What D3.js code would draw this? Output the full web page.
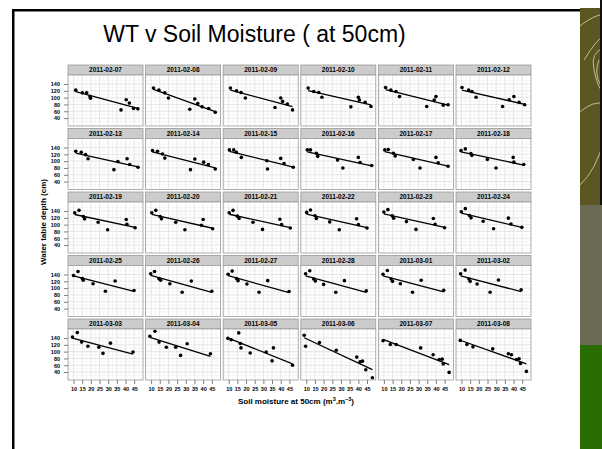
<!DOCTYPE html>
<html><head><meta charset="utf-8">
<script src="https://cdn.jsdelivr.net/npm/d3@7"></script>
<style>body{margin:0;background:#fff}svg{display:block}</style>
</head><body>
<script>
const dates = ["2011-02-07","2011-02-08","2011-02-09","2011-02-10","2011-02-11","2011-02-12",
  "2011-02-13","2011-02-14","2011-02-15","2011-02-16","2011-02-17","2011-02-18",
  "2011-02-19","2011-02-20","2011-02-21","2011-02-22","2011-02-23","2011-02-24",
  "2011-02-25","2011-02-26","2011-02-27","2011-02-28","2011-03-01","2011-03-02",
  "2011-03-03","2011-03-04","2011-03-05","2011-03-06","2011-03-07","2011-03-08"];
const soilMoisture = [
  [11.3,15.1,17.6,19.5,19.8,37.4,40.4,42.2,44.6,47.1],
  [11.4,14.5,17.9,20,32.3,35.2,36.9,39.4,43.2,47],
  [11,14.5,17.1,19.6,36.7,40,41.1,43.8,46.8],
  [11.1,14.3,17.2,19,35.7,40,40.6,43.9,47.3],
  [11,14,17,19,34.7,39,40,44.2,47],
  [10.3,14.1,16,18.4,33.7,37.5,40.2,43.2,46.4],
  [11.3,14.5,17,18.4,33.3,35.6,40.9,42.4,47.2],
  [10.8,13.7,16.6,17.9,32.7,35.2,40.3,43,47],
  [10.4,12.9,14.4,17.3,32,32.4,40,41.9,47.2],
  [10.6,12.4,15.8,16.6,28,31.1,40,41,47.7],
  [10.5,12.5,15.5,16.5,27,30.8,40,41.3,47],
  [9.7,12.2,15.4,16,24.9,29.9,39.8,40.2,45.9],
  [10.7,13.2,15.7,16.4,24.2,29.7,40.4,40.8,45.5],
  [10.4,12.7,15.2,16,24.2,29.5,40,39,45.5],
  [10.3,12.5,15,16,24,29.5,39.5,40.5,45.5],
  [10.2,12.4,15,15.8,23.5,29,39,40,45],
  [10,12.3,14.8,15.6,23,28.5,38.5,39.5,45],
  [9.9,12.2,14.6,15.5,22.5,28.5,37,38.5,44.8],
  [10,12.6,15.1,15.6,21.3,28.4,34,44.9],
  [9.8,12,14.5,15.5,20.8,27.9,33.2,45],
  [9.7,12,14.5,15.4,20.5,27.5,32.5,44.8],
  [9.6,12,14.3,15.2,20,27,32,44.6],
  [9.5,12,14.2,15,19.5,26.5,31.5,44.5],
  [9.5,12.1,14.3,15,19,26.5,31.3,44.4],
  [9.4,12.2,14.7,18.3,24.6,27,31.3,44.3],
  [9.3,12.2,14.6,18.8,24.2,27,30.8,44.2],
  [9.5,11.4,15.8,16.7,17.1,22.4,31.6,35,35.8,46.8],
  [8.8,9.6,17.6,27.3,39.1,41,42.4,44.3,48.1],
  [9.5,13.7,17.1,31.2,38.4,41.9,43.6,44.2,47.6],
  [9.3,13.1,16.6,28,37,38.8,41.7,43.2,44,47.4]
];
const waterTable = [
  [122,114,114,103,98,64,94,84,68,67],
  [128,122,114,99,66,96,83,73,68,57],
  [128,120,115,99,71,99,89,81,64],
  [128,118,115,101,73,101,93,86,74],
  [130,122,118,103,74,93,103,78,79],
  [130,122,118,101,74,94,103,86,79],
  [129,126,119,107,75,99,107,90,82],
  [131,129,121,109,75,106,97,90,77],
  [133,133,126,111,101,77,108,93,82],
  [133,133,123,114,103,80,111,96,87],
  [133,134,123,115,105,80,111,95,85],
  [131,136,122,117,105,80,111,97,90],
  [135,142,124,117,107,85,115,101,91],
  [135,142,124,117,107,85,115,98,88],
  [135,142,125,118,107,86,116,100,90],
  [136,143,126,118,108,85,117,100,90],
  [137,144,126,119,109,86,118,101,91],
  [138,147,127,120,110,88,119,102,92],
  [137,149,128,123,113,91,121,93],
  [142,149,128,123,113,88,121,91],
  [141,150,128,122,112,88,122,90],
  [142,151,127,121,111,88,122,92],
  [141,152,127,120,113,88,123,94],
  [142,153,127,120,112,88,124,95],
  [143,156,128,116,113,95,125,99],
  [145,159.7,128,113,113,89,123,94],
  [139,135,155,124,111,96,99,73,111,60],
  [148,116,127,104,84,70,72,47,23.5],
  [132,121,121,111,91,77,78,64,39],
  [133,121,114,108,94,91,77,79,65,42]
];
const xTicks = [10,15,20,25,30,35,40,45];
const yTicks = [40,60,80,100,120,140];
const xMinor = [7.5,12.5,17.5,22.5,27.5,32.5,37.5,42.5,47.5];
const yMinor = [30,50,70,90,110,130,150];

const W = 602, H = 449;
const svg = d3.select("body").append("svg").attr("width", W).attr("height", H);
const FONT = "'Liberation Sans', Arial, Helvetica, sans-serif";

// slide frame
svg.append("rect").attr("x",0).attr("y",0).attr("width",W).attr("height",H).attr("fill","#fff");
svg.append("rect").attr("x",12).attr("y",9).attr("width",569).attr("height",2.5).attr("fill","#000");
svg.append("rect").attr("x",12).attr("y",9).attr("width",2.5).attr("height",H-9).attr("fill","#000");
// right decorative strip
svg.append("rect").attr("x",580).attr("y",8).attr("width",22).attr("height",197).attr("fill","#5b5622");
svg.append("rect").attr("x",580).attr("y",205).attr("width",22).attr("height",140).attr("fill","#6a6a55");
svg.append("rect").attr("x",580).attr("y",345).attr("width",22).attr("height",H-345).attr("fill","#2a6d02");
const deco = svg.append("g").attr("fill","none").attr("stroke","#d4cf9c").attr("stroke-width",1).attr("opacity",0.85);
svg.append("clipPath").attr("id","dc").append("rect").attr("x",580).attr("y",8).attr("width",22).attr("height",197);
deco.attr("clip-path","url(#dc)");
deco.append("path").attr("d","M580,26 Q592,16 604,14");
deco.append("path").attr("d","M604,48 Q590,52 594,70 Q598,90 606,96");
deco.append("path").attr("d","M599,60 Q594,72 600,84");
deco.append("path").attr("d","M580,112 Q594,100 604,104");
deco.append("path").attr("d","M580,185 Q596,170 604,140");
deco.append("path").attr("d","M584,60 Q596,40 604,36");
svg.append("rect").attr("x",600).attr("y",0).attr("width",2).attr("height",205).attr("fill","#111");

// title
svg.append("text").attr("x",254.5).attr("y",42).attr("text-anchor","middle")
  .attr("font-family",FONT).attr("font-size",23).attr("fill","#000")
  .text("WT v Soil Moisture ( at 50cm)");

// facet geometry
const left0 = 68, panelW = 75, colPitch = 77.6;
const top0 = 65, stripH = 10, panelH = 51, rowPitch = 63.5;
const nCol = 6;

const allX = soilMoisture.flat(), allY = waterTable.flat();
function expand(ext){ const r = ext[1]-ext[0]; return [ext[0]-0.05*r, ext[1]+0.05*r]; }
const x = d3.scaleLinear().domain(expand(d3.extent(allX))).range([0, panelW]);
const y = d3.scaleLinear().domain(expand(d3.extent(allY))).range([panelH, 0]);
const xd = x.domain(), yd = y.domain();
const xm = xMinor.filter(v => v>=xd[0] && v<=xd[1]);
const ym = yMinor.filter(v => v>=yd[0] && v<=yd[1]);

const lineGen = d3.line().x(d=>x(d[0])).y(d=>y(d[1]));

dates.forEach((dt, i) => {
  const c = i % nCol, r = Math.floor(i / nCol);
  const px = left0 + c*colPitch, sy = top0 + r*rowPitch, py = sy + stripH;
  // strip
  svg.append("rect").attr("x",px).attr("y",sy).attr("width",panelW).attr("height",stripH)
    .attr("fill","#cccccc").attr("stroke","#999").attr("stroke-width",0.8);
  svg.append("text").attr("x",px+panelW/2).attr("y",sy+stripH/2).attr("dy","0.35em")
    .attr("text-anchor","middle").attr("font-family",FONT).attr("font-weight","bold")
    .attr("font-size",6.5).attr("fill","#000").text(dt);
  const g = svg.append("g").attr("transform",`translate(${px},${py})`);
  g.append("rect").attr("width",panelW).attr("height",panelH).attr("fill","#fff");
  // minor grid
  g.selectAll(".xm").data(xm).join("line").attr("x1",d=>x(d)).attr("x2",d=>x(d))
    .attr("y1",0).attr("y2",panelH).attr("stroke","#f0f0f0").attr("stroke-width",0.6);
  g.selectAll(".ym").data(ym).join("line").attr("y1",d=>y(d)).attr("y2",d=>y(d))
    .attr("x1",0).attr("x2",panelW).attr("stroke","#f0f0f0").attr("stroke-width",0.6);
  // major grid
  g.selectAll(".xM").data(xTicks).join("line").attr("x1",d=>x(d)).attr("x2",d=>x(d))
    .attr("y1",0).attr("y2",panelH).attr("stroke","#e0e0e0").attr("stroke-width",0.8);
  g.selectAll(".yM").data(yTicks).join("line").attr("y1",d=>y(d)).attr("y2",d=>y(d))
    .attr("x1",0).attr("x2",panelW).attr("stroke","#e0e0e0").attr("stroke-width",0.8);
  // regression (lm)
  const xs = soilMoisture[i], ys = waterTable[i];
  const mx = d3.mean(xs), my = d3.mean(ys);
  let sxy = 0, sxx = 0;
  xs.forEach((v,k)=>{ sxy += (v-mx)*(ys[k]-my); sxx += (v-mx)*(v-mx); });
  const b = sxy/sxx, a = my - b*mx;
  const [x0, x1] = d3.extent(xs);
  g.append("path").attr("d", lineGen([[x0, a+b*x0],[x1, a+b*x1]]))
    .attr("stroke","#000").attr("stroke-width",1.3).attr("fill","none");
  // points
  g.selectAll("circle").data(xs.map((v,k)=>[v,ys[k]])).join("circle")
    .attr("cx",d=>x(d[0])).attr("cy",d=>y(d[1])).attr("r",1.8).attr("fill","#000");
  // border
  g.append("rect").attr("width",panelW).attr("height",panelH).attr("fill","none")
    .attr("stroke","#999").attr("stroke-width",0.8);
  // axes
  if (c === 0) {
    const ax = g.append("g").call(d3.axisLeft(y).tickValues(yTicks).tickSize(4).tickPadding(4));
    ax.select(".domain").remove();
    ax.selectAll("line").attr("stroke","#7f7f7f");
    ax.selectAll("text").attr("font-family",FONT).attr("font-weight","bold").attr("font-size",5.5).attr("fill","#000");
  }
  if (r === 4) {
    const ax = g.append("g").attr("transform",`translate(0,${panelH})`)
      .call(d3.axisBottom(x).tickValues(xTicks).tickSize(4).tickPadding(3));
    ax.select(".domain").remove();
    ax.selectAll("line").attr("stroke","#7f7f7f");
    ax.selectAll("text").attr("font-family",FONT).attr("font-weight","bold").attr("font-size",5.5).attr("fill","#000");
  }
});

// axis titles
const xt = svg.append("text").attr("x",296).attr("y",404).attr("text-anchor","middle")
  .attr("font-family",FONT).attr("font-weight","bold").attr("font-size",8).attr("fill","#000");
xt.append("tspan").text("Soil moisture at 50cm (m");
xt.append("tspan").attr("dy",-3).attr("font-size",5.5).text("3");
xt.append("tspan").attr("dy",3).text(".m");
xt.append("tspan").attr("dy",-3).attr("font-size",5.5).text("\u22123");
xt.append("tspan").attr("dy",3).text(")");

svg.append("text").attr("transform","translate(46,222) rotate(-90)").attr("text-anchor","middle")
  .attr("font-family",FONT).attr("font-weight","bold").attr("font-size",8).attr("fill","#000")
  .text("Water table depth (cm)");
</script>
</body></html>
